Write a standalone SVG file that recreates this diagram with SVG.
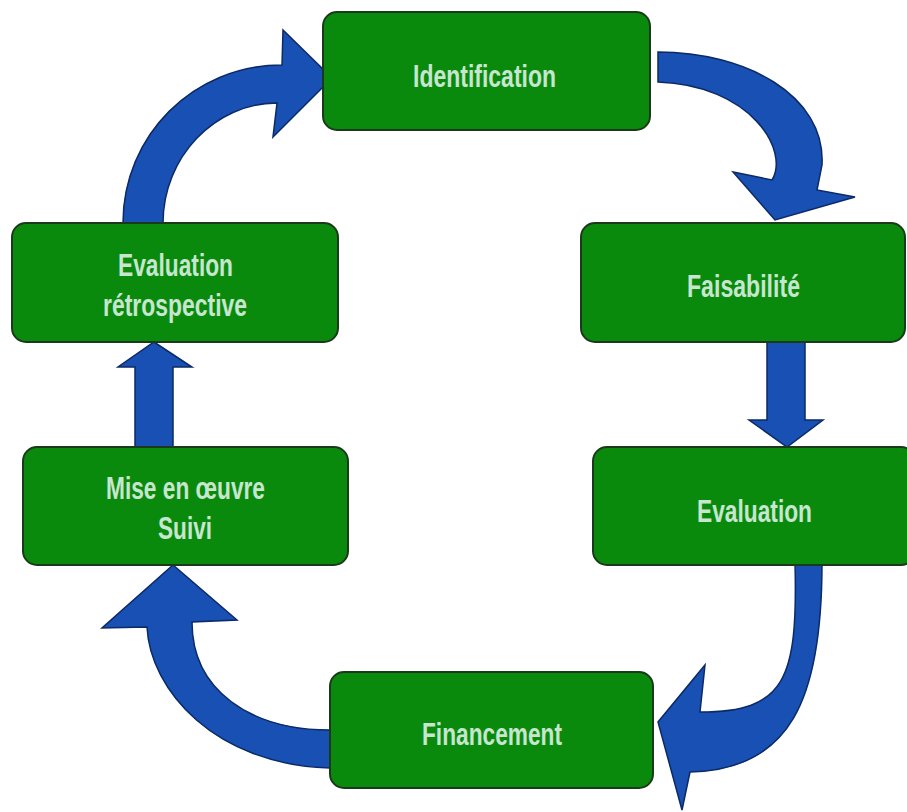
<svg xmlns="http://www.w3.org/2000/svg" width="907" height="812" viewBox="0 0 907 812">
<style>
.box{fill:#0a8a0c;stroke:#1b3a1b;stroke-width:2}
.lbl{font-family:"Liberation Sans",Arial,sans-serif;font-weight:bold;font-size:32px;fill:#c6e6cf;text-anchor:middle}
.arr{fill:#1850b3;stroke:#0b2a66;stroke-width:1.5;stroke-linejoin:miter}
</style>
<rect x="0" y="0" width="907" height="812" fill="#ffffff"/>
<g id="connectors">
<path class="arr" d="M 658 52 C 745 52 826 95 822 165 L 817 190 L 855 197 L 775 220 L 733 172 L 772 180 C 790 150 750 85 658 82 Z"/>
<path class="arr" d="M 767 342 L 805 342 L 805 420 L 823 420 L 787 447 L 749 420 L 767 420 Z"/>
<path class="arr" d="M 795 563 L 822 563 C 822 700 790 770 690 772 L 682 810 L 658 722 L 705 665 L 700 712 C 785 712 798 680 795 563 Z"/>
<path class="arr" d="M 330 730 C 250 730 192 690 192 622 L 237 620 L 173 565 L 102 628 L 147 627 C 150 690 215 765 330 768 Z"/>
<path class="arr" d="M 135 447 L 173 447 L 173 367 L 192 367 L 154 342 L 118 367 L 135 367 Z"/>
<path class="arr" d="M 123 223 C 123 136 193 65 282 65 L 283 30 L 332 78 L 273 137 L 277 103 C 215 103 163 157 163 223 Z"/>
</g>
<g id="identification">
<rect class="box" x="323" y="12" width="327" height="118" rx="14"/>
<text class="lbl" x="484.5" y="87" textLength="143" lengthAdjust="spacingAndGlyphs">Identification</text>
</g>
<g id="faisabilite">
<rect class="box" x="581" y="223" width="324" height="119" rx="14"/>
<text class="lbl" x="743.5" y="297" textLength="113" lengthAdjust="spacingAndGlyphs">Faisabilité</text>
</g>
<g id="evaluation">
<rect class="box" x="593" y="447" width="322" height="118" rx="14"/>
<text class="lbl" x="754.5" y="522" textLength="115" lengthAdjust="spacingAndGlyphs">Evaluation</text>
</g>
<g id="financement">
<rect class="box" x="330" y="672" width="323" height="116" rx="14"/>
<text class="lbl" x="492" y="745" textLength="140" lengthAdjust="spacingAndGlyphs">Financement</text>
</g>
<g id="mise-en-oeuvre">
<rect class="box" x="23" y="447" width="325" height="118" rx="14"/>
<text class="lbl" x="185.5" y="499" textLength="159" lengthAdjust="spacingAndGlyphs">Mise en œuvre</text>
<text class="lbl" x="185" y="539" textLength="54" lengthAdjust="spacingAndGlyphs">Suivi</text>
</g>
<g id="evaluation-retrospective">
<rect class="box" x="12" y="223" width="326" height="119" rx="14"/>
<text class="lbl" x="175.5" y="276" textLength="115" lengthAdjust="spacingAndGlyphs">Evaluation</text>
<text class="lbl" x="175" y="316" textLength="144" lengthAdjust="spacingAndGlyphs">rétrospective</text>
</g>
</svg>
